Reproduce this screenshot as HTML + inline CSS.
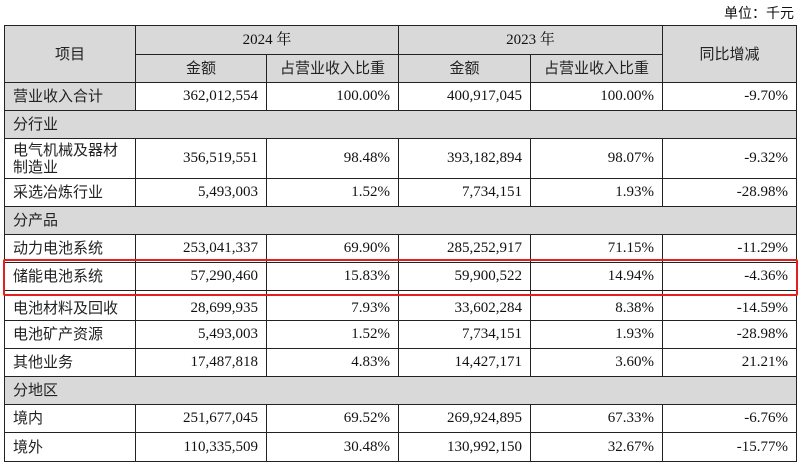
<!DOCTYPE html>
<html><head><meta charset="utf-8"><style>
body{margin:0;width:800px;height:467px;background:#fff;overflow:hidden;position:relative;font-family:"Liberation Serif","Noto Serif CJK SC",serif;color:#111}
.unit{position:absolute;right:6px;top:3px;font-size:14px;font-family:"Liberation Serif","Noto Sans CJK SC",serif}
table{position:absolute;left:4px;top:25px;border-collapse:collapse;table-layout:fixed;width:792px}
td{border:1px solid #222;padding:0 8px;font-size:15px;text-align:right;white-space:nowrap;line-height:17px}
td.l{text-align:left;font-family:"Liberation Sans","Noto Sans CJK SC",sans-serif;color:#222}
td.c{text-align:center}
.g{background:#d9d9d9}
.box{position:absolute;left:3px;top:259px;width:791px;height:33px;border:2px solid #e41f1f;border-radius:2px}
</style></head><body>
<div class="unit">单位：千元</div>
<table>
<colgroup><col style="width:131px"><col style="width:131px"><col style="width:132px"><col style="width:132px"><col style="width:132px"><col style="width:134px"></colgroup>
<tr style="height:29px" class="g"><td class="c l" rowspan="2" style="text-align:center">项目</td><td class="c" colspan="2">2024 年</td><td class="c" colspan="2">2023 年</td><td class="c l" rowspan="2" style="text-align:center">同比增减</td></tr>
<tr style="height:28px" class="g"><td class="c l" style="text-align:center">金额</td><td class="c l" style="text-align:center">占营业收入比重</td><td class="c l" style="text-align:center">金额</td><td class="c l" style="text-align:center">占营业收入比重</td></tr>
<tr style="height:28px"><td class="l g">营业收入合计</td><td>362,012,554</td><td>100.00%</td><td>400,917,045</td><td>100.00%</td><td>-9.70%</td></tr>
<tr style="height:28px" class="g"><td class="l" colspan="6">分行业</td></tr>
<tr style="height:40px"><td class="l">电气机械及器材<br>制造业</td><td>356,519,551</td><td>98.48%</td><td>393,182,894</td><td>98.07%</td><td>-9.32%</td></tr>
<tr style="height:28px"><td class="l">采选冶炼行业</td><td>5,493,003</td><td>1.52%</td><td>7,734,151</td><td>1.93%</td><td>-28.98%</td></tr>
<tr style="height:28px" class="g"><td class="l" colspan="6">分产品</td></tr>
<tr style="height:28px"><td class="l">动力电池系统</td><td>253,041,337</td><td>69.90%</td><td>285,252,917</td><td>71.15%</td><td>-11.29%</td></tr>
<tr style="height:28px"><td class="l">储能电池系统</td><td>57,290,460</td><td>15.83%</td><td>59,900,522</td><td>14.94%</td><td>-4.36%</td></tr>
<tr style="height:30px"><td class="l" style="padding-top:6px">电池材料及回收</td><td style="padding-top:6px">28,699,935</td><td style="padding-top:6px">7.93%</td><td style="padding-top:6px">33,602,284</td><td style="padding-top:6px">8.38%</td><td style="padding-top:6px">-14.59%</td></tr>
<tr style="height:28px"><td class="l">电池矿产资源</td><td>5,493,003</td><td>1.52%</td><td>7,734,151</td><td>1.93%</td><td>-28.98%</td></tr>
<tr style="height:28px"><td class="l">其他业务</td><td>17,487,818</td><td>4.83%</td><td>14,427,171</td><td>3.60%</td><td>21.21%</td></tr>
<tr style="height:28px" class="g"><td class="l" colspan="6">分地区</td></tr>
<tr style="height:28px"><td class="l">境内</td><td>251,677,045</td><td>69.52%</td><td>269,924,895</td><td>67.33%</td><td>-6.76%</td></tr>
<tr style="height:29px"><td class="l">境外</td><td>110,335,509</td><td>30.48%</td><td>130,992,150</td><td>32.67%</td><td>-15.77%</td></tr>
</table>
<div class="box"></div>
</body></html>
